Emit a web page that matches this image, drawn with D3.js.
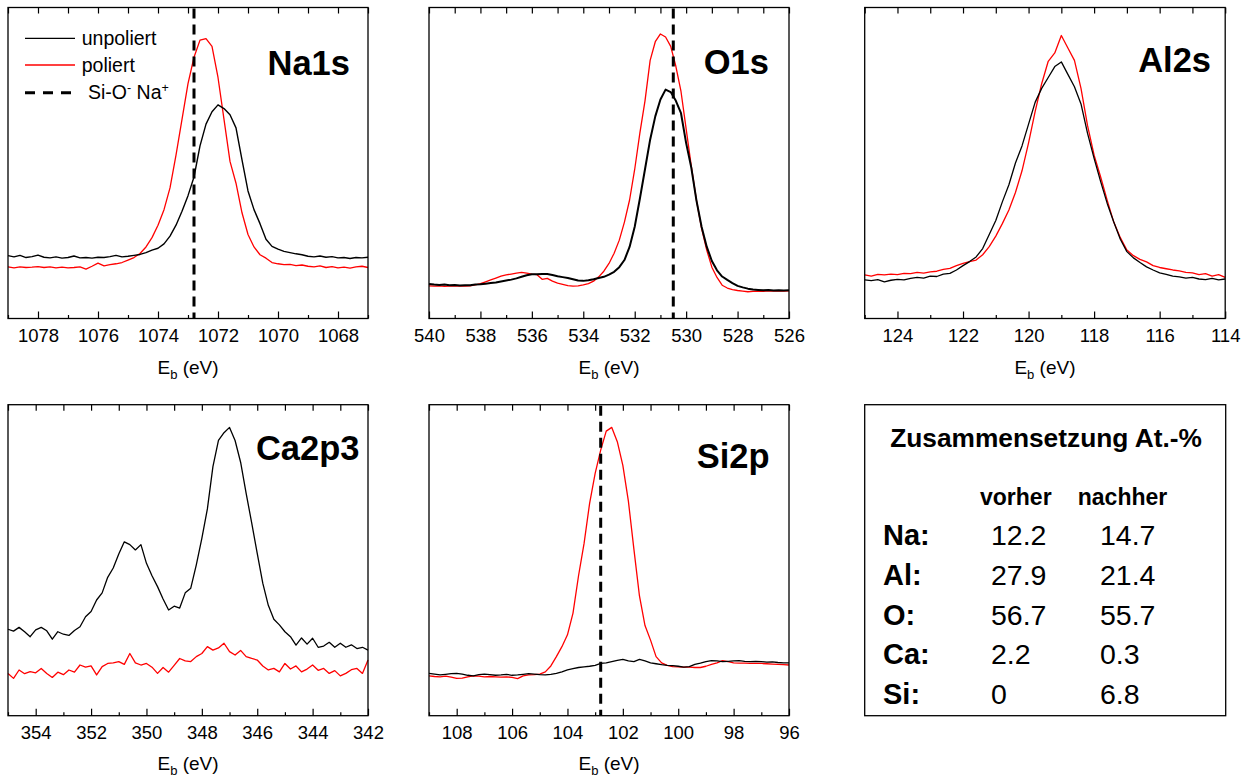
<!DOCTYPE html>
<html>
<head>
<meta charset="utf-8">
<script src="https://cdn.jsdelivr.net/npm/d3@7"></script>
<style>
  html, body { margin: 0; padding: 0; background: #fff; }
  svg { display: block; font-family: "Liberation Sans", Arial, Helvetica, sans-serif; }
</style>
</head>
<body>
<svg id="chart" width="1247" height="780"></svg>
<script>
// ---------- XPS spectra (binding energy in eV, intensity in arbitrary units 0–100) ----------

// Na1s
const na1sEnergy = [1079.0,1078.8,1078.6,1078.4,1078.2,1078.0,1077.8,1077.6,1077.4,1077.2,
  1077.0,1076.8,1076.6,1076.4,1076.2,1076.0,1075.8,1075.6,1075.4,1075.2,
  1075.0,1074.8,1074.6,1074.4,1074.2,1074.0,1073.8,1073.6,1073.4,1073.2,
  1073.0,1072.8,1072.6,1072.4,1072.2,1072.0,1071.8,1071.6,1071.4,1071.2,
  1071.0,1070.8,1070.6,1070.4,1070.2,1070.0,1069.8,1069.6,1069.4,1069.2,
  1069.0,1068.8,1068.6,1068.4,1068.2,1068.0,1067.8,1067.6,1067.4,1067.2,1067.0];
const na1sUnpoliert = [20.2,19.8,20.3,19.6,19.9,20.4,19.7,19.5,19.8,19.4,
  19.6,20.1,19.5,19.6,19.4,19.7,19.6,19.9,20.3,19.8,
  20.0,20.3,20.6,21.2,22.0,22.6,24.0,26.5,30.0,34.5,
  39.5,45.5,55.5,62.5,66.5,68.7,67.5,65.5,61.3,51.0,
  41.0,35.0,30.5,25.5,23.2,22.3,21.6,21.2,20.8,20.5,
  20.0,19.8,20.1,19.7,19.9,19.5,19.6,19.3,19.6,19.5,19.7];
const na1sPoliert = [16.6,16.3,16.6,16.4,16.5,16.7,16.4,16.6,16.3,16.5,
  16.3,16.4,16.6,15.9,16.8,17.8,16.9,17.3,17.6,18.0,
  18.8,19.6,20.9,23.0,26.0,30.0,35.0,42.0,52.5,64.0,
  75.5,84.0,89.5,90.0,87.5,77.5,64.0,50.5,43.5,34.0,
  27.0,23.0,20.5,19.4,18.0,17.6,17.3,17.4,17.0,17.2,
  16.8,16.6,16.9,16.4,16.7,16.3,16.5,16.2,16.6,16.8,16.4];
const na1sTicks = [1078,1076,1074,1072,1070,1068];
const na1sReference = 1072.8;

// O1s
const o1sEnergy = [540.0,539.8,539.6,539.4,539.2,539.0,538.8,538.6,538.4,538.2,
  538.0,537.8,537.6,537.4,537.2,537.0,536.8,536.6,536.4,536.2,
  536.0,535.8,535.6,535.4,535.2,535.0,534.8,534.6,534.4,534.2,
  534.0,533.8,533.6,533.4,533.2,533.0,532.8,532.6,532.4,532.2,
  532.0,531.8,531.6,531.4,531.2,531.0,530.8,530.6,530.4,530.2,
  530.0,529.8,529.6,529.4,529.2,529.0,528.8,528.6,528.4,528.2,
  528.0,527.8,527.6,527.4,527.2,527.0,526.8,526.6,526.4,526.2,526.0];
const o1sUnpoliert = [11.1,10.9,10.8,10.9,10.7,10.8,10.6,10.7,10.7,10.9,
  11.0,11.2,11.4,11.6,11.9,12.2,12.5,12.9,13.4,13.9,
  14.2,14.2,14.3,14.3,14.0,13.6,13.3,13.0,12.6,12.2,
  12.1,12.3,12.6,13.0,13.4,14.1,15.0,16.5,18.8,23.0,
  29.5,38.5,48.0,57.5,65.0,70.4,73.6,72.8,70.0,66.0,
  56.4,48.5,38.0,29.5,23.1,18.5,15.5,13.5,12.4,11.4,
  10.5,10.0,9.6,9.3,9.2,9.1,9.2,9.0,9.1,9.0,9.1];
const o1sPoliert = [10.5,10.4,10.5,10.3,10.4,10.4,10.5,10.4,10.5,10.8,
  11.2,11.8,12.4,13.0,13.6,14.0,14.3,14.6,14.8,14.6,
  14.3,14.1,12.6,12.9,12.0,11.4,11.0,10.6,10.4,10.5,
  10.8,11.2,12.0,13.4,15.2,17.7,21.0,25.2,31.0,38.1,
  48.0,59.6,70.0,83.0,89.0,91.5,90.5,87.5,81.1,73.0,
  61.0,49.0,38.1,29.0,22.0,16.5,13.2,10.7,9.8,9.3,
  9.0,8.8,8.6,8.7,8.8,8.7,8.9,8.8,8.9,8.8,8.9];
const o1sTicks = [540,538,536,534,532,530,528,526];
const o1sReference = 530.5;

// Al2s
const al2sEnergy = [125.0,124.8,124.6,124.4,124.2,124.0,123.8,123.6,123.4,123.2,
  123.0,122.8,122.6,122.4,122.2,122.0,121.8,121.6,121.4,121.2,
  121.0,120.8,120.6,120.4,120.2,120.0,119.8,119.6,119.4,119.2,
  119.0,118.8,118.6,118.4,118.2,118.0,117.8,117.6,117.4,117.2,
  117.0,116.8,116.6,116.4,116.2,116.0,115.8,115.6,115.4,115.2,
  115.0,114.8,114.6,114.4,114.2,114.0];
const al2sUnpoliert = [12.4,12.2,12.5,11.8,12.3,12.6,12.4,12.9,13.2,13.0,
  13.6,13.5,14.3,14.5,15.6,17.0,18.3,19.8,22.5,27.0,
  31.5,37.5,43.0,50.0,55.5,62.5,69.5,74.0,77.5,81.0,
  82.5,78.5,74.5,69.0,59.5,51.5,44.0,37.0,31.0,25.5,
  21.5,19.5,18.0,16.6,15.6,14.7,14.2,13.6,13.4,13.0,
  13.2,12.7,12.5,12.9,12.4,12.7];
const al2sPoliert = [14.0,13.6,14.2,14.0,14.3,14.1,14.5,14.4,14.8,14.6,
  15.0,15.2,15.8,16.1,17.0,17.7,18.3,18.8,20.5,23.1,
  26.5,30.5,34.9,40.5,47.5,56.5,66.5,75.5,82.7,85.4,
  91.0,87.0,83.0,74.0,62.0,52.5,45.5,38.0,31.0,26.0,
  22.0,20.2,19.0,18.2,17.0,16.4,16.0,15.6,15.3,14.8,
  14.7,14.1,14.4,13.6,14.1,13.2];
const al2sTicks = [124,122,120,118,116,114];

// Ca2p3
const ca2pEnergy = [355.0,354.8,354.6,354.4,354.2,354.0,353.8,353.6,353.4,353.2,
  353.0,352.8,352.6,352.4,352.2,352.0,351.8,351.6,351.4,351.2,
  351.0,350.8,350.6,350.4,350.2,350.0,349.8,349.6,349.4,349.2,
  349.0,348.8,348.6,348.4,348.2,348.0,347.8,347.6,347.4,347.2,
  347.0,346.8,346.6,346.4,346.2,346.0,345.8,345.6,345.4,345.2,
  345.0,344.8,344.6,344.4,344.2,344.0,343.8,343.6,343.4,343.2,
  343.0,342.8,342.6,342.4,342.2,342.0];
const ca2pUnpoliert = [27.8,27.2,28.4,27.0,25.4,27.6,28.4,27.3,24.6,27.0,
  26.2,25.8,27.4,28.6,31.8,33.5,37.2,39.5,44.5,47.5,
  52.0,55.9,55.0,53.3,55.0,49.0,45.0,41.5,37.5,34.0,
  35.2,34.6,39.5,41.0,48.5,57.0,66.5,80.1,88.5,91.0,
  92.7,88.5,81.5,71.5,62.0,52.2,42.6,35.5,31.0,29.2,
  27.0,25.4,22.7,25.0,23.0,24.9,22.0,22.4,23.6,22.0,
  23.3,22.0,22.8,21.6,22.0,21.1];
const ca2pPoliert = [13.6,12.0,14.7,13.5,14.2,13.8,15.2,13.6,12.3,14.0,
  13.2,14.7,14.0,16.3,15.6,16.0,13.1,15.8,16.8,17.0,
  17.4,16.5,20.0,17.0,16.3,16.8,15.6,13.6,15.5,14.0,
  16.2,18.4,17.6,17.4,19.0,20.0,22.2,21.1,21.8,23.3,
  20.6,19.5,21.0,19.0,18.4,17.9,16.0,14.7,15.2,14.1,
  16.8,15.0,16.0,14.1,15.0,16.3,14.6,15.2,13.6,14.5,
  12.8,13.6,14.8,15.2,13.6,17.9];
const ca2pTicks = [354,352,350,348,346,344,342];

// Si2p
const si2pEnergy = [109.0,108.8,108.6,108.4,108.2,108.0,107.8,107.6,107.4,107.2,
  107.0,106.8,106.6,106.4,106.2,106.0,105.8,105.6,105.4,105.2,
  105.0,104.8,104.6,104.4,104.2,104.0,103.8,103.6,103.4,103.2,
  103.0,102.8,102.6,102.4,102.2,102.0,101.8,101.6,101.4,101.2,
  101.0,100.8,100.6,100.4,100.2,100.0,99.8,99.6,99.4,99.2,
  99.0,98.8,98.6,98.4,98.2,98.0,97.8,97.6,97.4,97.2,
  97.0,96.8,96.6,96.4,96.2,96.0];
const si2pUnpoliert = [13.6,13.4,13.1,13.3,13.5,13.6,13.4,13.0,12.8,13.2,
  13.4,13.2,13.0,13.1,13.3,13.0,13.1,13.3,13.5,13.4,
  13.2,13.1,13.3,13.6,14.1,14.7,15.1,15.5,15.7,15.9,
  16.2,16.8,17.0,17.4,17.8,18.1,17.6,17.4,18.1,17.6,
  17.0,16.7,16.4,16.2,16.1,15.9,15.6,15.8,16.5,16.9,
  17.4,17.7,17.6,17.4,17.5,17.6,17.7,17.5,17.4,17.5,
  17.4,17.2,17.3,17.1,17.0,17.0];
const si2pPoliert = [12.8,12.6,12.5,12.7,12.4,12.0,12.1,12.5,12.8,12.7,
  12.5,12.6,12.5,12.4,12.5,12.3,11.9,12.8,13.1,13.2,
  13.4,14.1,16.0,19.0,22.2,26.0,33.0,45.0,55.4,68.3,
  77.9,85.4,91.5,92.7,88.1,80.5,69.0,53.5,38.5,29.0,
  24.3,19.0,17.0,16.2,15.8,15.7,15.6,15.6,15.5,15.5,
  15.9,16.5,17.0,17.7,17.4,17.0,16.9,16.9,16.8,16.8,
  16.8,16.7,16.6,16.5,16.4,16.3];
const si2pTicks = [108,106,104,102,100,98,96];
const si2pReference = 102.8;

// Legend entries
const legendLabels = ["unpoliert", "poliert", "Si-O", "Na"];

// Composition table (At.-%)
const tableTitle = "Zusammensetzung At.-%";
const tableColumns = ["vorher", "nachher"];
const tableElements = ["Na:", "Al:", "O:", "Ca:", "Si:"];
const tableVorher = [12.2, 27.9, 56.7, 2.2, 0];
const tableNachher = [14.7, 21.4, 55.7, 0.3, 6.8];

// ---------- layout ----------
const BLACK = "#000000";
const RED = "#ff0000";
const FONT = '"Liberation Sans", Arial, Helvetica, sans-serif';

const panels = [
  { name: "Na1s", energy: na1sEnergy, unpoliert: na1sUnpoliert, poliert: na1sPoliert,
    domain: [1079, 1067], ticks: na1sTicks, reference: na1sReference,
    x: 8, y: 7.5, w: 360, h: 311, labelX: 350, labelY: 75, titleY: 374, blackWidth: 1.4 },
  { name: "O1s", energy: o1sEnergy, unpoliert: o1sUnpoliert, poliert: o1sPoliert,
    domain: [540, 526], ticks: o1sTicks, reference: o1sReference,
    x: 429, y: 7.5, w: 360, h: 311, labelX: 769, labelY: 74, titleY: 374, blackWidth: 2 },
  { name: "Al2s", energy: al2sEnergy, unpoliert: al2sUnpoliert, poliert: al2sPoliert,
    domain: [125, 114], ticks: al2sTicks, reference: null,
    x: 864.7, y: 7.5, w: 360.5, h: 311, labelX: 1211, labelY: 72, titleY: 374, blackWidth: 1.3 },
  { name: "Ca2p3", energy: ca2pEnergy, unpoliert: ca2pUnpoliert, poliert: ca2pPoliert,
    domain: [355, 342], ticks: ca2pTicks, reference: null,
    x: 8, y: 404.7, w: 360, h: 311, labelX: 359.5, labelY: 460, titleY: 770, blackWidth: 1.3 },
  { name: "Si2p", energy: si2pEnergy, unpoliert: si2pUnpoliert, poliert: si2pPoliert,
    domain: [109, 96], ticks: si2pTicks, reference: si2pReference,
    x: 429, y: 404.7, w: 360, h: 311, labelX: 769.5, labelY: 468, titleY: 770, blackWidth: 1.3 }
];

const svg = d3.select("#chart");
svg.append("rect").attr("width", 1247).attr("height", 780).attr("fill", "#fff");

function drawPanel(p) {
  const g = svg.append("g").attr("transform", `translate(${p.x},${p.y})`);
  const x = d3.scaleLinear().domain(p.domain).range([0, p.w]);
  const y = d3.scaleLinear().domain([0, 100]).range([p.h, 0]);
  const lo = Math.min(...p.domain), hi = Math.max(...p.domain);
  const minors = d3.range(Math.ceil(lo), Math.floor(hi) + 1).filter(v => !p.ticks.includes(v));

  const styleAxis = sel => {
    sel.select(".domain").remove();
    sel.selectAll(".tick line").attr("stroke", BLACK).attr("stroke-width", 1.2);
    sel.attr("font-family", FONT).attr("font-size", 18.5);
    sel.selectAll(".tick text").attr("fill", BLACK);
  };

  // bottom axis: labelled major ticks and minor ticks, both pointing inward
  g.append("g").attr("transform", `translate(0,${p.h})`)
    .call(d3.axisBottom(x).tickValues(p.ticks).tickSize(-7).tickPadding(10).tickFormat(d3.format("d")))
    .call(styleAxis);
  g.append("g").attr("transform", `translate(0,${p.h})`)
    .call(d3.axisBottom(x).tickValues(minors).tickSize(-3.5).tickFormat(""))
    .call(styleAxis);
  // mirrored ticks on the top edge
  g.append("g")
    .call(d3.axisTop(x).tickValues(p.ticks).tickSize(-6).tickFormat(""))
    .call(styleAxis);
  g.append("g")
    .call(d3.axisTop(x).tickValues(minors).tickSize(-6).tickFormat(""))
    .call(styleAxis);

  const line = d3.line()
    .x((d, i) => x(p.energy[i]))
    .y(d => y(d));

  g.append("path").datum(p.poliert)
    .attr("fill", "none").attr("stroke", RED).attr("stroke-width", 1.3)
    .attr("stroke-linejoin", "round").attr("d", line);
  g.append("path").datum(p.unpoliert)
    .attr("fill", "none").attr("stroke", BLACK).attr("stroke-width", p.blackWidth)
    .attr("stroke-linejoin", "round").attr("d", line);

  if (p.reference !== null) {
    g.append("line")
      .attr("x1", x(p.reference)).attr("x2", x(p.reference))
      .attr("y1", 1).attr("y2", p.h)
      .attr("stroke", BLACK).attr("stroke-width", 3)
      .attr("stroke-dasharray", "10,6");
  }

  // frame
  g.append("rect").attr("width", p.w).attr("height", p.h)
    .attr("fill", "none").attr("stroke", BLACK).attr("stroke-width", 1.3);

  // element label
  svg.append("text")
    .attr("x", p.labelX).attr("y", p.labelY)
    .attr("text-anchor", "end")
    .attr("font-family", FONT).attr("font-weight", "bold").attr("font-size", 34.5)
    .attr("fill", BLACK)
    .text(p.name);

  // x-axis title: E_b (eV)
  const t = svg.append("text")
    .attr("x", p.x + p.w / 2).attr("y", p.titleY)
    .attr("text-anchor", "middle")
    .attr("font-family", FONT).attr("font-size", 19).attr("fill", BLACK);
  t.append("tspan").text("E");
  t.append("tspan").attr("font-size", 13).attr("dy", 5).text("b");
  t.append("tspan").attr("dy", -5).text(" (eV)");
}

panels.forEach(drawPanel);

// ---------- legend (inside the Na1s panel) ----------
const legend = svg.append("g").attr("font-family", FONT).attr("font-size", 19.5).attr("fill", BLACK);
const legendRows = [
  { stroke: BLACK, width: 1.3, dash: null, ly: 38.3, ty: 45, tx: 81.7 },
  { stroke: RED, width: 1.3, dash: null, ly: 65, ty: 72, tx: 81.7 },
  { stroke: BLACK, width: 3, dash: "10,8", ly: 92.7, ty: 99, tx: 88 }
];
legendRows.forEach((r, i) => {
  const l = legend.append("line")
    .attr("x1", 25).attr("x2", 75).attr("y1", r.ly).attr("y2", r.ly)
    .attr("stroke", r.stroke).attr("stroke-width", r.width);
  if (r.dash) l.attr("stroke-dasharray", r.dash);
});
legend.append("text").attr("x", legendRows[0].tx).attr("y", legendRows[0].ty).text(legendLabels[0]);
legend.append("text").attr("x", legendRows[1].tx).attr("y", legendRows[1].ty).text(legendLabels[1]);
const ion = legend.append("text").attr("x", legendRows[2].tx).attr("y", legendRows[2].ty);
ion.append("tspan").text(legendLabels[2]);
ion.append("tspan").attr("font-size", 12.5).attr("dy", -7).text("-");
ion.append("tspan").attr("dy", 7).text(" " + legendLabels[3]);
ion.append("tspan").attr("font-size", 12.5).attr("dy", -7).text("+");

// ---------- composition table ----------
const box = { x: 864.7, y: 404.7, w: 361, h: 311 };
const tg = svg.append("g").attr("font-family", FONT).attr("fill", BLACK);
tg.append("rect").attr("x", box.x).attr("y", box.y).attr("width", box.w).attr("height", box.h)
  .attr("fill", "#fff").attr("stroke", BLACK).attr("stroke-width", 1.3);
tg.append("text").attr("x", 1046).attr("y", 447).attr("text-anchor", "middle")
  .attr("font-weight", "bold").attr("font-size", 26.3).text(tableTitle);

const colCenters = [1015.8, 1122.5];
const colStarts = [991, 1100];
tableColumns.forEach((c, i) => {
  tg.append("text").attr("x", colCenters[i]).attr("y", 505).attr("text-anchor", "middle")
    .attr("font-weight", "bold").attr("font-size", 23).text(c);
});

const rowY = d3.scaleLinear().domain([0, tableElements.length - 1]).range([545, 704]);
tableElements.forEach((el, i) => {
  tg.append("text").attr("x", 883).attr("y", rowY(i))
    .attr("font-weight", "bold").attr("font-size", 29).text(el);
  tg.append("text").attr("x", colStarts[0]).attr("y", rowY(i))
    .attr("font-size", 28.5).text(String(tableVorher[i]));
  tg.append("text").attr("x", colStarts[1]).attr("y", rowY(i))
    .attr("font-size", 28.5).text(String(tableNachher[i]));
});
</script>
</body>
</html>
